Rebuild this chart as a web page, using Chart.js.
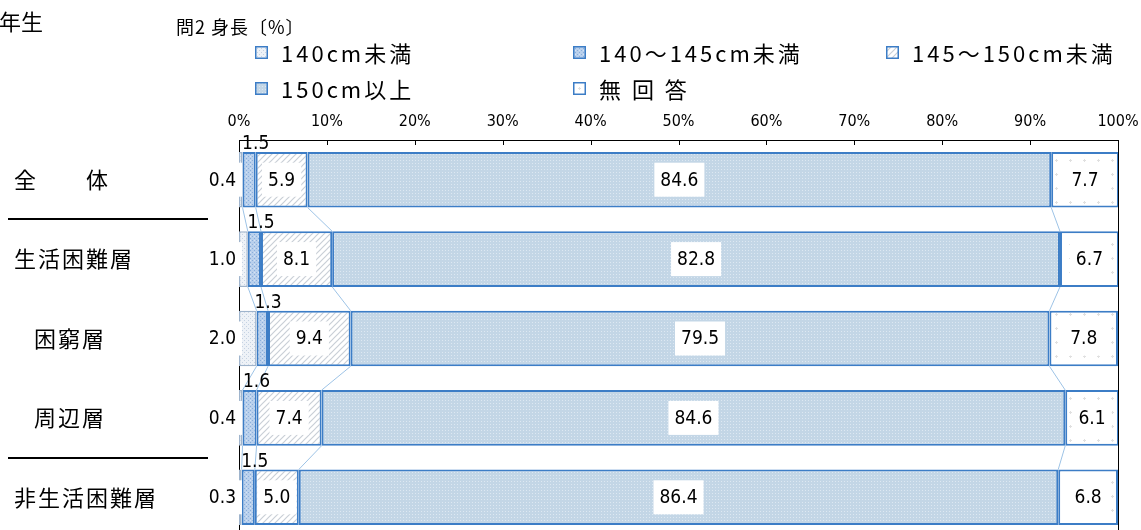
<!DOCTYPE html>
<html>
<head>
<meta charset="utf-8">
<script src="https://cdn.jsdelivr.net/npm/chart.js@4.4.0/dist/chart.umd.min.js"></script>
<style>
html,body{margin:0;padding:0;overflow:hidden;background:#fff;}
#wrap{position:relative;width:1141px;height:545px;}
#c{position:absolute;left:0;top:0;}
.t1{position:absolute;left:-1px;top:9px;font:22px/22px 'Noto Sans CJK JP';}
.t2{position:absolute;left:176px;top:17px;font:18px/18px 'Noto Sans CJK JP';letter-spacing:1px;}
#legend{position:absolute;left:255px;top:34px;display:grid;grid-template-columns:318px 313px auto;grid-auto-rows:36px;font:22px 'Noto Sans CJK JP';letter-spacing:3px;}
.item{display:flex;align-items:center;white-space:nowrap;}
.item canvas{margin-right:13px;}
</style>
</head>
<body>
<div id="wrap">
  <canvas id="c" width="1141" height="545"></canvas>
  <div class="t1">年生</div>
  <div class="t2">問2&nbsp;身長〔%〕</div>
  <div id="legend"></div>
</div>
<script>
var categories = ['全　　体', '生活困難層', '\u2002 困窮層', '\u2002 周辺層', '非生活困難層']
var seriesNames = ['140cm未満', '140～145cm未満', '145～150cm未満', '150cm以上', '無 回 答']
var under140 = [0.4, 1.0, 2.0, 0.4, 0.3]
var from140to145 = [1.5, 1.5, 1.3, 1.6, 1.5]
var from145to150 = [5.9, 8.1, 9.4, 7.4, 5.0]
var over150 = [84.6, 82.8, 79.5, 84.6, 86.4]
var noAnswer = [7.7, 6.7, 7.8, 6.1, 6.8]
var tickLabels = ['0%', '10%', '20%', '30%', '40%', '50%', '60%', '70%', '80%', '90%', '100%']
var groupBreaks = [0, 3] // lines drawn under these rows

var numFont = '19px "Liberation Sans Narrow", "DejaVu Sans Condensed", Arial, sans-serif'
var blue = '#3c7dc6'

function makeTile(size, bg, draw) {
    var c = document.createElement('canvas')
    c.width = size; c.height = size
    var g = c.getContext('2d')
    g.fillStyle = bg
    g.fillRect(0, 0, size, size)
    draw(g)
    return c
}

var tiles = [
    makeTile(4, '#eef2f7', function(g){ g.fillStyle = '#c5d2e2'; g.fillRect(0,0,1,1); g.fillRect(2,2,1,1) }),
    makeTile(4, '#b9d0ec', function(g){ g.fillStyle = '#8aaedb'; g.fillRect(0,0,1,1); g.fillRect(2,2,1,1); g.fillStyle = '#d6e4f5'; g.fillRect(2,0,1,1) }),
    makeTile(6, '#ffffff', function(g){
        g.strokeStyle = '#c9cfd6'; g.lineWidth = 1.2
        g.beginPath(); g.moveTo(0,6); g.lineTo(6,0); g.moveTo(-1,1); g.lineTo(1,-1); g.moveTo(5,7); g.lineTo(7,5); g.stroke()
    }),
    makeTile(3, '#c3d6e6', function(g){ g.fillStyle = '#dde8f2'; g.fillRect(1,1,1,1) }),
    makeTile(14, '#ffffff', function(g){ g.fillStyle = '#e0e0e0'; g.fillRect(6,5,1,3); g.fillRect(5,6,3,1) })
]

var ctx = document.getElementById('c').getContext('2d')
var patterns = tiles.map(function(t){ return ctx.createPattern(t, 'repeat') })
var borders = ['#9fb4cc', blue, blue, blue, blue]
var values = [under140, from140to145, from145to150, over150, noAnswer]

// legend
var legend = document.getElementById('legend')
seriesNames.forEach(function(name, i){
    var item = document.createElement('div')
    item.className = 'item'
    var sw = document.createElement('canvas')
    sw.width = 13; sw.height = 13
    var g = sw.getContext('2d')
    g.fillStyle = g.createPattern(tiles[i], 'repeat')
    g.fillRect(0, 0, 13, 13)
    g.strokeStyle = blue; g.lineWidth = 1.5
    g.strokeRect(0.75, 0.75, 11.5, 11.5)
    item.appendChild(sw)
    var sp = document.createElement('span')
    sp.textContent = name
    item.appendChild(sp)
    legend.appendChild(item)
})

function labelBox(ctx, text, x, y, align) {
    var w = ctx.measureText(text).width
    var left = align == 'right' ? x - w : x - w / 2
    ctx.fillStyle = '#fff'
    ctx.fillRect(left - 6, y - 17, w + 12, 34)
    ctx.fillStyle = '#000'
    ctx.textAlign = align
    ctx.textBaseline = 'middle'
    ctx.fillText(text, x, y + 1)
}

var extras = {
    id: 'extras',
    beforeDatasetsDraw: function(chart) {
        var c = chart.ctx, a = chart.chartArea, xs = chart.scales.x
        c.save()
        c.strokeStyle = '#000'; c.lineWidth = 1
        c.beginPath()
        c.moveTo(a.right + 0.5, a.top); c.lineTo(a.right + 0.5, a.bottom)
        xs.ticks.forEach(function(t){
            var x = Math.round(xs.getPixelForValue(t.value)) + 0.5
            c.moveTo(x, a.top); c.lineTo(x, a.top + 5)
        })
        c.stroke()
        // series lines
        c.strokeStyle = '#9dc3e6'
        c.beginPath()
        for (var d = 0; d < 4; d++) {
            var bars = chart.getDatasetMeta(d).data
            for (var i = 0; i < bars.length - 1; i++) {
                c.moveTo(bars[i].x, bars[i].y + bars[i].height / 2)
                c.lineTo(bars[i + 1].x, bars[i + 1].y - bars[i + 1].height / 2)
            }
        }
        c.stroke()
        c.restore()
    },
    afterDatasetsDraw: function(chart) {
        var c = chart.ctx, a = chart.chartArea, ys = chart.scales.y
        c.save()
        c.font = numFont
        chart.data.datasets.forEach(function(ds, d){
            chart.getDatasetMeta(d).data.forEach(function(bar, i){
                var txt = ds.data[i].toFixed(1)
                if (d == 0) {
                    labelBox(c, txt, a.left - 3, bar.y, 'right')
                } else if (d == 1) {
                    c.fillStyle = '#000'
                    c.textAlign = 'center'
                    c.textBaseline = 'alphabetic'
                    c.fillText(txt, bar.x, bar.y - bar.height / 2 - 3)
                } else {
                    labelBox(c, txt, (bar.x + bar.base) / 2, bar.y, 'center')
                }
            })
        })
        // category labels
        c.font = '22px "Noto Sans CJK JP"'
        c.letterSpacing = '2px'
        c.fillStyle = '#000'
        c.textAlign = 'left'
        c.textBaseline = 'middle'
        categories.forEach(function(cat, i){
            c.fillText(cat, 14, ys.getPixelForValue(i))
        })
        c.strokeStyle = '#000'; c.lineWidth = 2
        c.beginPath()
        groupBreaks.forEach(function(i){
            var y = Math.round((ys.getPixelForValue(i) + ys.getPixelForValue(i + 1)) / 2)
            c.moveTo(8, y); c.lineTo(208, y)
        })
        c.stroke()
        c.restore()
    }
}

var chart = new Chart(ctx, {
    type: 'bar',
    data: {
        labels: categories,
        datasets: values.map(function(v, i){
            return {
                label: seriesNames[i],
                data: v,
                backgroundColor: patterns[i],
                borderColor: borders[i],
                borderWidth: i == 0 ? 1.5 : 2,
                borderSkipped: false,
                barPercentage: 0.7,
                categoryPercentage: 1
            }
        })
    },
    options: {
        indexAxis: 'y',
        responsive: false,
        animation: false,
        layout: { padding: { left: 0, right: 23, top: 0, bottom: 8 } },
        plugins: { legend: { display: false }, tooltip: { enabled: false } },
        scales: {
            x: {
                stacked: true,
                position: 'top',
                min: 0, max: 100,
                ticks: {
                    stepSize: 10,
                    padding: 1,
                    color: '#000',
                    font: { family: '"Liberation Sans Narrow", "DejaVu Sans Condensed", Arial, sans-serif', size: 16 },
                    maxRotation: 0,
                    callback: function(v, i){ return tickLabels[i] }
                },
                grid: { display: false },
                border: { display: true, color: '#000', width: 1 },
                afterFit: function(s){ s.height = 140; s.paddingLeft = 0; s.paddingRight = 0 }
            },
            y: {
                stacked: true,
                ticks: { display: false },
                grid: { display: false },
                border: { display: true, color: '#000', width: 1 },
                afterFit: function(s){ s.width = 239 }
            }
        }
    },
    plugins: [extras]
})
</script>
</body>
</html>
